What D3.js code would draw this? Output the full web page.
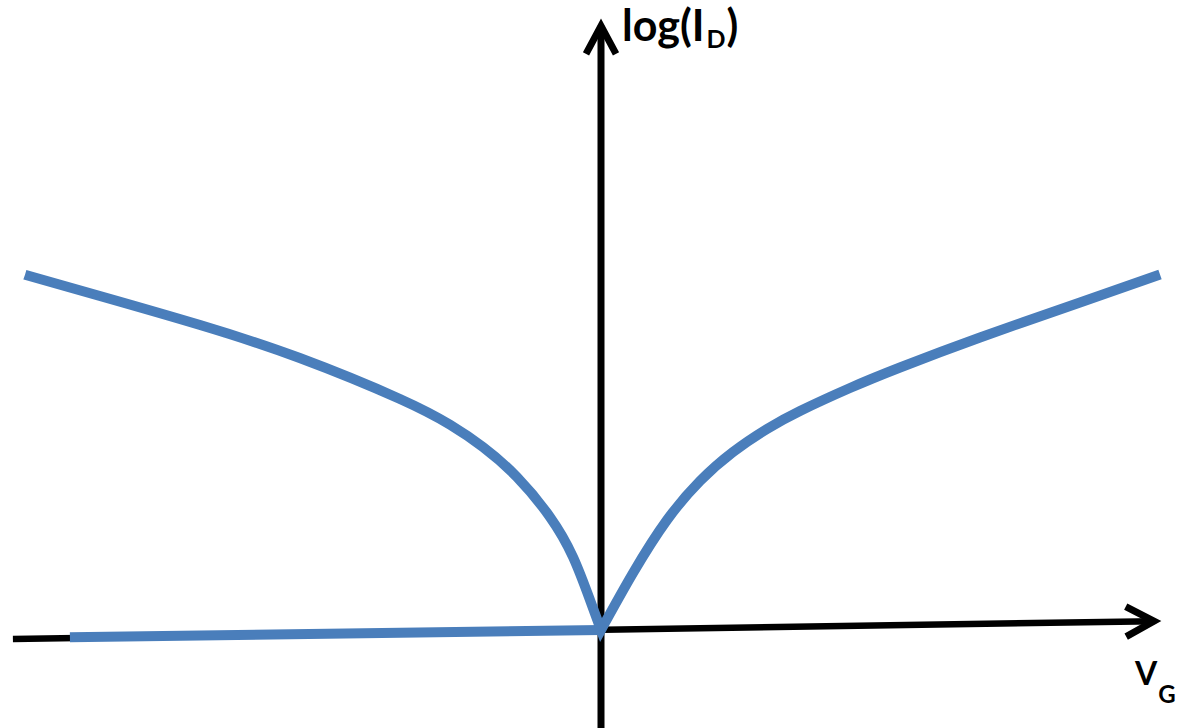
<!DOCTYPE html>
<html>
<head>
<meta charset="utf-8">
<script src="https://cdn.jsdelivr.net/npm/d3@7"></script>
<style>
  html, body { margin: 0; padding: 0; background: #ffffff; }
  svg { display: block; }
  text { font-family: Lato, "Open Sans", sans-serif; font-weight: 700; fill: #000; }
</style>
</head>
<body>
<svg id="chart" width="1184" height="728"></svg>
<script>
// Transfer characteristic: gate voltage (arbitrary units) vs log of drain current
const leftV    = [-10, -8.70, -6.96, -5.23, -3.49, -2.62, -2.05, -1.46, -0.885, -0.486, -0.191, 0];
const leftLogI = [5.92, 5.567, 5.083, 4.533, 3.85, 3.42, 3.05, 2.55, 1.883, 1.217, 0.5, 0];

const rightV    = [0, 0.556, 1.146, 1.719, 2.292, 2.882, 3.455, 4.323, 5.191, 6.58, 8.316, 9.705];
const rightLogI = [0, 0.95, 1.833, 2.483, 2.967, 3.35, 3.65, 4.033, 4.375, 4.875, 5.458, 5.925];

// Off-state floor
const floorV    = [-9.22, 0];
const floorLogI = [-0.12, 0];

// Axes (slightly tilted horizontal axis, vertical axis through V = 0)
const xAxisV    = [-10.21, 9.60];
const xAxisLogI = [-0.15, 0.147];
const yAxisV    = [0, 0];
const yAxisLogI = [-1.7, 10.07];

const xLabel = ["V", "G"];
const yLabel = ["log(I", "D", ")"];

const svg = d3.select("#chart");

const x = d3.scaleLinear().domain([-10, 10]).range([25, 1177]);
const y = d3.scaleLinear().domain([0, 10]).range([630, 30]);

const zip = (a, b) => a.map((v, i) => [v, b[i]]);

const curve = d3.line().x(d => x(d[0])).y(d => y(d[1])).curve(d3.curveNatural);
const straight = d3.line().x(d => x(d[0])).y(d => y(d[1]));

const blue = "#4a7ebb";

// Open chevron arrowhead, drawn at 1:1 pixel scale
svg.append("defs").append("marker")
  .attr("id", "arrow")
  .attr("viewBox", "-40 -25 50 50")
  .attr("refX", 0).attr("refY", 0)
  .attr("markerUnits", "userSpaceOnUse")
  .attr("markerWidth", 50).attr("markerHeight", 50)
  .attr("orient", "auto")
  .append("path")
  .attr("d", "M-28,-15 L0,0 L-28,15")
  .attr("fill", "none")
  .attr("stroke", "#000")
  .attr("stroke-width", 7)
  .attr("stroke-linecap", "butt")
  .attr("stroke-linejoin", "miter")
  .attr("stroke-miterlimit", 6);

// Axes
svg.append("path")
  .attr("d", straight(zip(xAxisV, xAxisLogI)))
  .attr("stroke", "#000").attr("stroke-width", 6.5).attr("fill", "none")
  .attr("marker-end", "url(#arrow)");

svg.append("path")
  .attr("d", straight(zip(yAxisV, yAxisLogI)))
  .attr("stroke", "#000").attr("stroke-width", 7).attr("fill", "none")
  .attr("marker-end", "url(#arrow)");

// Floor current
svg.append("path")
  .attr("d", straight(zip(floorV, floorLogI)))
  .attr("stroke", blue).attr("stroke-width", 10).attr("fill", "none")
  .attr("stroke-linecap", "butt");

// Ambipolar branches joined at the minimum
const leftD = curve(zip(leftV, leftLogI));
const rightD = curve(zip(rightV, rightLogI)).replace(/^M[^A-Za-z]*/, "");
svg.append("path")
  .attr("d", leftD + rightD)
  .attr("stroke", blue).attr("stroke-width", 10).attr("fill", "none")
  .attr("stroke-linecap", "butt")
  .attr("stroke-linejoin", "miter")
  .attr("stroke-miterlimit", 10);

// Axis labels
const yl = svg.append("text").attr("x", 622).attr("y", 41).style("font-size", "43px");
yl.append("tspan").text(yLabel[0]);
yl.append("tspan").attr("dy", 7).attr("dx", 2).style("font-size", "25px").text(yLabel[1]);
yl.append("tspan").attr("dy", -7).attr("dx", 1).text(yLabel[2]);

const xl = svg.append("text").attr("x", 1135).attr("y", 685).style("font-size", "32px");
xl.append("tspan").text(xLabel[0]);
xl.append("tspan").attr("dy", 18).attr("dx", 1).style("font-size", "24px").text(xLabel[1]);
</script>
</body>
</html>
